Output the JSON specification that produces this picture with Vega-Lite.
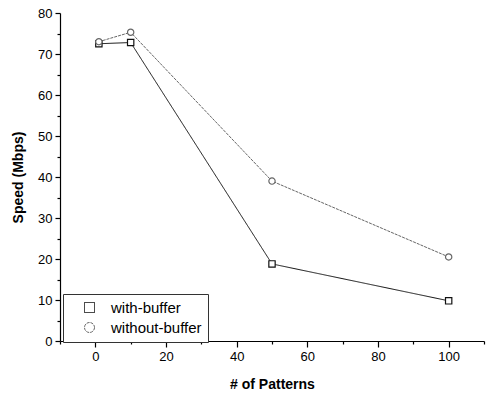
{
  "$schema": "https://vega.github.io/schema/vega-lite/v6.json",
  "autosize": "none",
  "padding": {"left": 60, "top": 13, "right": 3, "bottom": 53},
  "width": 424,
  "height": 328,
  "background": "white",
  "config": {
    "font": "Liberation Sans",
    "view": {"stroke": null},
    "axis": {"grid": false, "domainColor": "black", "tickColor": "black", "labelColor": "black", "titleColor": "black", "labelFont": "Liberation Sans", "titleFont": "Liberation Sans", "labelFontSize": 13, "titleFontSize": 14, "titleFontWeight": "bold", "domainWidth": 1.2, "tickWidth": 1.2},
    "legend": {
      "title": null, "orient": "none", "legendX": 3, "legendY": 281,
      "padding": 6, "strokeColor": "#333333", "fillColor": "white",
      "labelFont": "Liberation Sans", "labelFontSize": 15, "labelColor": "black",
      "symbolSize": 100, "symbolOffset": 13, "labelOffset": 14, "rowPadding": 4,
      "symbolStrokeWidth": 1, "symbolFillColor": "white", "symbolDash": [1, 0]
    }
  },
  "data": {
    "values": [
      {"x": 1, "y": 72.5, "s": "with-buffer"},
      {"x": 10, "y": 72.8, "s": "with-buffer"},
      {"x": 50, "y": 18.8, "s": "with-buffer"},
      {"x": 100, "y": 9.8, "s": "with-buffer"},
      {"x": 1, "y": 73.0, "s": "without-buffer"},
      {"x": 10, "y": 75.3, "s": "without-buffer"},
      {"x": 50, "y": 39.0, "s": "without-buffer"},
      {"x": 100, "y": 20.5, "s": "without-buffer"}
    ]
  },
  "resolve": {"axis": {"x": "independent", "y": "independent"}},
  "layer": [
    {
      "mark": {"type": "line", "strokeWidth": 1},
      "encoding": {
        "x": {"field": "x", "type": "quantitative", "scale": {"domain": [-10, 110], "nice": false, "zero": false},
              "axis": {"orient": "bottom", "values": [-10, 10, 30, 50, 70, 90, 110], "labels": false, "tickSize": 3, "domain": false, "title": null}},
        "y": {"field": "y", "type": "quantitative", "scale": {"domain": [0, 80], "nice": false},
              "axis": {"orient": "left", "values": [5, 15, 25, 35, 45, 55, 65, 75], "labels": false, "tickSize": 3, "domain": false, "title": null}},
        "color": {"field": "s", "type": "nominal", "scale": {"domain": ["with-buffer", "without-buffer"], "range": ["#111111", "#666666"]}},
        "strokeDash": {"field": "s", "type": "nominal", "scale": {"domain": ["with-buffer", "without-buffer"], "range": [[1, 0], [3, 1]]}}
      }
    },
    {
      "mark": {"type": "point", "fill": "white", "filled": false, "strokeWidth": 1.2, "opacity": 1},
      "encoding": {
        "x": {"field": "x", "type": "quantitative", "scale": {"domain": [-10, 110], "nice": false, "zero": false},
              "axis": {"orient": "bottom", "values": [0, 20, 40, 60, 80, 100], "tickSize": 6, "labelPadding": 3, "title": "# of Patterns", "titlePadding": 14}},
        "y": {"field": "y", "type": "quantitative", "scale": {"domain": [0, 80], "nice": false},
              "axis": {"orient": "left", "values": [0, 10, 20, 30, 40, 50, 60, 70, 80], "tickSize": 5, "labelPadding": 3, "title": "Speed (Mbps)", "titlePadding": 12}},
        "color": {"field": "s", "type": "nominal", "scale": {"domain": ["with-buffer", "without-buffer"], "range": ["#111111", "#666666"]}},
        "size": {"value": 40},
        "shape": {"field": "s", "type": "nominal", "scale": {"domain": ["with-buffer", "without-buffer"], "range": ["square", "circle"]}}
      }
    }
  ]
}
